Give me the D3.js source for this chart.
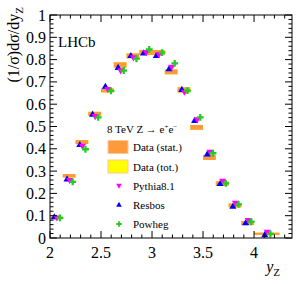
<!DOCTYPE html>
<html>
<head>
<meta charset="utf-8">
<script src="https://cdn.jsdelivr.net/npm/d3@7"></script>
<style>
  body { margin: 0; background: #fff; }
  svg text { font-family: "Liberation Serif", "Times New Roman", Times, serif; fill: #000; }
</style>
</head>
<body>
<div id="chart"></div>
<script>
// bin edges in y_Z
let binLo = [2.0, 2.125, 2.25, 2.375, 2.5, 2.625, 2.75, 2.875, 3.0, 3.125, 3.25, 3.375, 3.5, 3.625, 3.75, 3.875, 4.0];
let binHi = [2.125, 2.25, 2.375, 2.5, 2.625, 2.75, 2.875, 3.0, 3.125, 3.25, 3.375, 3.5, 3.625, 3.75, 3.875, 4.0, 4.25];

// measured (1/sigma) dsigma/dy
let data    = [0.090, 0.279, 0.430, 0.557, 0.662, 0.776, 0.817, 0.832, 0.832, 0.745, 0.664, 0.496, 0.361, 0.244, 0.146, 0.067, 0.019];
let statErr = [0.006, 0.008, 0.009, 0.009, 0.009, 0.012, 0.011, 0.011, 0.011, 0.011, 0.012, 0.011, 0.011, 0.010, 0.009, 0.009, 0.005];
let totErr  = [0.006, 0.008, 0.009, 0.009, 0.009, 0.012, 0.011, 0.011, 0.011, 0.011, 0.012, 0.011, 0.011, 0.010, 0.009, 0.009, 0.005];

// predictions
let pythia = [0.092, 0.260, 0.413, 0.547, 0.668, 0.752, 0.810, 0.834, 0.825, 0.768, 0.656, 0.532, 0.387, 0.257, 0.158, 0.081, 0.028];
let resbos = [0.093, 0.263, 0.417, 0.553, 0.678, 0.763, 0.816, 0.828, 0.816, 0.757, 0.664, 0.525, 0.375, 0.242, 0.140, 0.066, 0.013];
let powheg = [0.090, 0.252, 0.398, 0.541, 0.660, 0.751, 0.804, 0.846, 0.831, 0.783, 0.661, 0.541, 0.380, 0.245, 0.151, 0.073, 0.018];

let xTicks = [2, 2.5, 3, 3.5, 4];
let yTicks = [0, 0.1, 0.2, 0.3, 0.4, 0.5, 0.6, 0.7, 0.8, 0.9, 1];

let W = 296, H = 284;
let pLeft = 50, pRight = 292, pTop = 15, pBottom = 238;
let serif = "Liberation Serif";

let svg = d3.select("#chart").append("svg")
  .attr("width", W)
  .attr("height", H)
  .attr("font-family", serif);

let x = d3.scaleLinear().domain([2, 4.372]).range([pLeft, pRight]);
let y = d3.scaleLinear().domain([0, 1]).range([pBottom, pTop]);

let bins = data.map(function(d, i) {
  return {lo: binLo[i], hi: binHi[i], v: d, s: statErr[i], t: totErr[i],
          py: pythia[i], rb: resbos[i], pw: powheg[i]};
});

// total error boxes (yellow) under stat boxes (orange)
svg.selectAll("rect.tot").data(bins).enter().append("rect")
  .attr("class", "tot")
  .attr("x", function(d) { return x(d.lo); })
  .attr("width", function(d) { return x(d.hi) - x(d.lo); })
  .attr("y", function(d) { return y(d.v + d.t); })
  .attr("height", function(d) { return y(d.v - d.t) - y(d.v + d.t); })
  .attr("fill", "#ffff00");

svg.selectAll("rect.stat").data(bins).enter().append("rect")
  .attr("class", "stat")
  .attr("x", function(d) { return x(d.lo); })
  .attr("width", function(d) { return x(d.hi) - x(d.lo); })
  .attr("y", function(d) { return y(d.v + d.s); })
  .attr("height", function(d) { return Math.max(2, y(d.v - d.s) - y(d.v + d.s)); })
  .attr("fill", "#ff9a3c");

let tri = d3.symbol().type(d3.symbolTriangle).size(22);
let cross = d3.symbol().type(d3.symbolCross).size(26);

// Resbos: blue up triangles, shifted left
svg.selectAll("path.rb").data(bins).enter().append("path")
  .attr("d", tri)
  .attr("transform", function(d) { return "translate(" + x((d.lo + d.hi) / 2 - 0.02) + "," + y(d.rb) + ")"; })
  .attr("fill", "#0000ff");

// Pythia: magenta down triangles
svg.selectAll("path.py").data(bins).enter().append("path")
  .attr("d", tri)
  .attr("transform", function(d) { return "translate(" + x((d.lo + d.hi) / 2 + 0.005) + "," + y(d.py) + ") rotate(180)"; })
  .attr("fill", "#ff00ff");

// Powheg: green crosses, shifted right
svg.selectAll("path.pw").data(bins).enter().append("path")
  .attr("d", cross)
  .attr("transform", function(d) { return "translate(" + x((d.lo + d.hi) / 2 + 0.035) + "," + y(d.pw) + ")"; })
  .attr("fill", "#22cc22");

// frame
svg.append("rect")
  .attr("x", pLeft).attr("y", pTop)
  .attr("width", pRight - pLeft).attr("height", pBottom - pTop)
  .attr("fill", "none").attr("stroke", "#000").attr("stroke-width", 1);

// ticks on all sides, pointing inward
let xMinor = d3.range(2, 4.37, 0.1);
let yMinor = d3.range(0, 1.0001, 0.02);
let g = svg.append("g").attr("stroke", "#000").attr("stroke-width", 1);
xMinor.forEach(function(v) {
  let major = xTicks.some(function(t) { return Math.abs(t - v) < 1e-6; });
  let len = major ? 7 : 3.5;
  g.append("line").attr("x1", x(v)).attr("x2", x(v)).attr("y1", pBottom).attr("y2", pBottom - len);
  g.append("line").attr("x1", x(v)).attr("x2", x(v)).attr("y1", pTop).attr("y2", pTop + len);
});
yMinor.forEach(function(v) {
  let major = yTicks.some(function(t) { return Math.abs(t - v) < 1e-6; });
  let len = major ? 7 : 3.5;
  g.append("line").attr("y1", y(v)).attr("y2", y(v)).attr("x1", pLeft).attr("x2", pLeft + len);
  g.append("line").attr("y1", y(v)).attr("y2", y(v)).attr("x1", pRight).attr("x2", pRight - len);
});

// tick labels
svg.selectAll("text.xl").data(xTicks).enter().append("text")
  .attr("x", function(d) { return x(d); })
  .attr("y", 258)
  .attr("text-anchor", "middle")
  .attr("font-size", 16)
  .text(function(d) { return d; });

svg.selectAll("text.yl").data(yTicks).enter().append("text")
  .attr("x", 46)
  .attr("y", function(d) { return y(d) + 5.5; })
  .attr("text-anchor", "end")
  .attr("font-size", 16)
  .text(function(d) { return d; });

// axis titles
let yt = svg.append("text")
  .attr("transform", "translate(19,7) rotate(-90)")
  .attr("text-anchor", "end")
  .attr("font-size", 16);
yt.append("tspan").text("(1/σ)dσ/dy");
yt.append("tspan").attr("font-size", 11).attr("dy", 4).text("Z");

let xt = svg.append("text")
  .attr("x", 280).attr("y", 272)
  .attr("text-anchor", "end")
  .attr("font-size", 16);
xt.append("tspan").attr("font-style", "italic").text("y");
xt.append("tspan").attr("font-size", 11).attr("dy", 4).text("Z");

svg.append("text").attr("x", 58).attr("y", 47).attr("font-size", 15).text("LHCb");

// legend
svg.append("text").attr("x", 107).attr("y", 133).attr("font-size", 11)
  .html("8 TeV Z \u2192 e<tspan dy='-4' font-size='7'>+</tspan><tspan dy='4'>e</tspan><tspan dy='-4' font-size='7'>\u2212</tspan>");

let legend = [
  {label: "Data (stat.)", kind: "box", color: "#ff9a3c"},
  {label: "Data (tot.)", kind: "box", color: "#ffff00"},
  {label: "Pythia8.1", kind: "down", color: "#ff00ff"},
  {label: "Resbos", kind: "up", color: "#0000ff"},
  {label: "Powheg", kind: "cross", color: "#22cc22"}
];
let ly = [147, 166.5, 185.5, 205, 224];
legend.forEach(function(e, i) {
  if (e.kind === "box") {
    svg.append("rect").attr("x", 108).attr("y", ly[i] - 6.5).attr("width", 20).attr("height", 13)
      .attr("fill", e.color).attr("stroke", "#ffc890").attr("stroke-width", 1);
  } else if (e.kind === "cross") {
    svg.append("path").attr("d", d3.symbol().type(d3.symbolCross).size(16))
      .attr("transform", "translate(119," + ly[i] + ")").attr("fill", e.color);
  } else {
    svg.append("path").attr("d", d3.symbol().type(d3.symbolTriangle).size(14))
      .attr("transform", "translate(119," + ly[i] + ")" + (e.kind === "down" ? " rotate(180)" : ""))
      .attr("fill", e.color);
  }
  svg.append("text").attr("x", 133).attr("y", ly[i] + 4).attr("font-size", 11).text(e.label);
});
</script>
</body>
</html>
